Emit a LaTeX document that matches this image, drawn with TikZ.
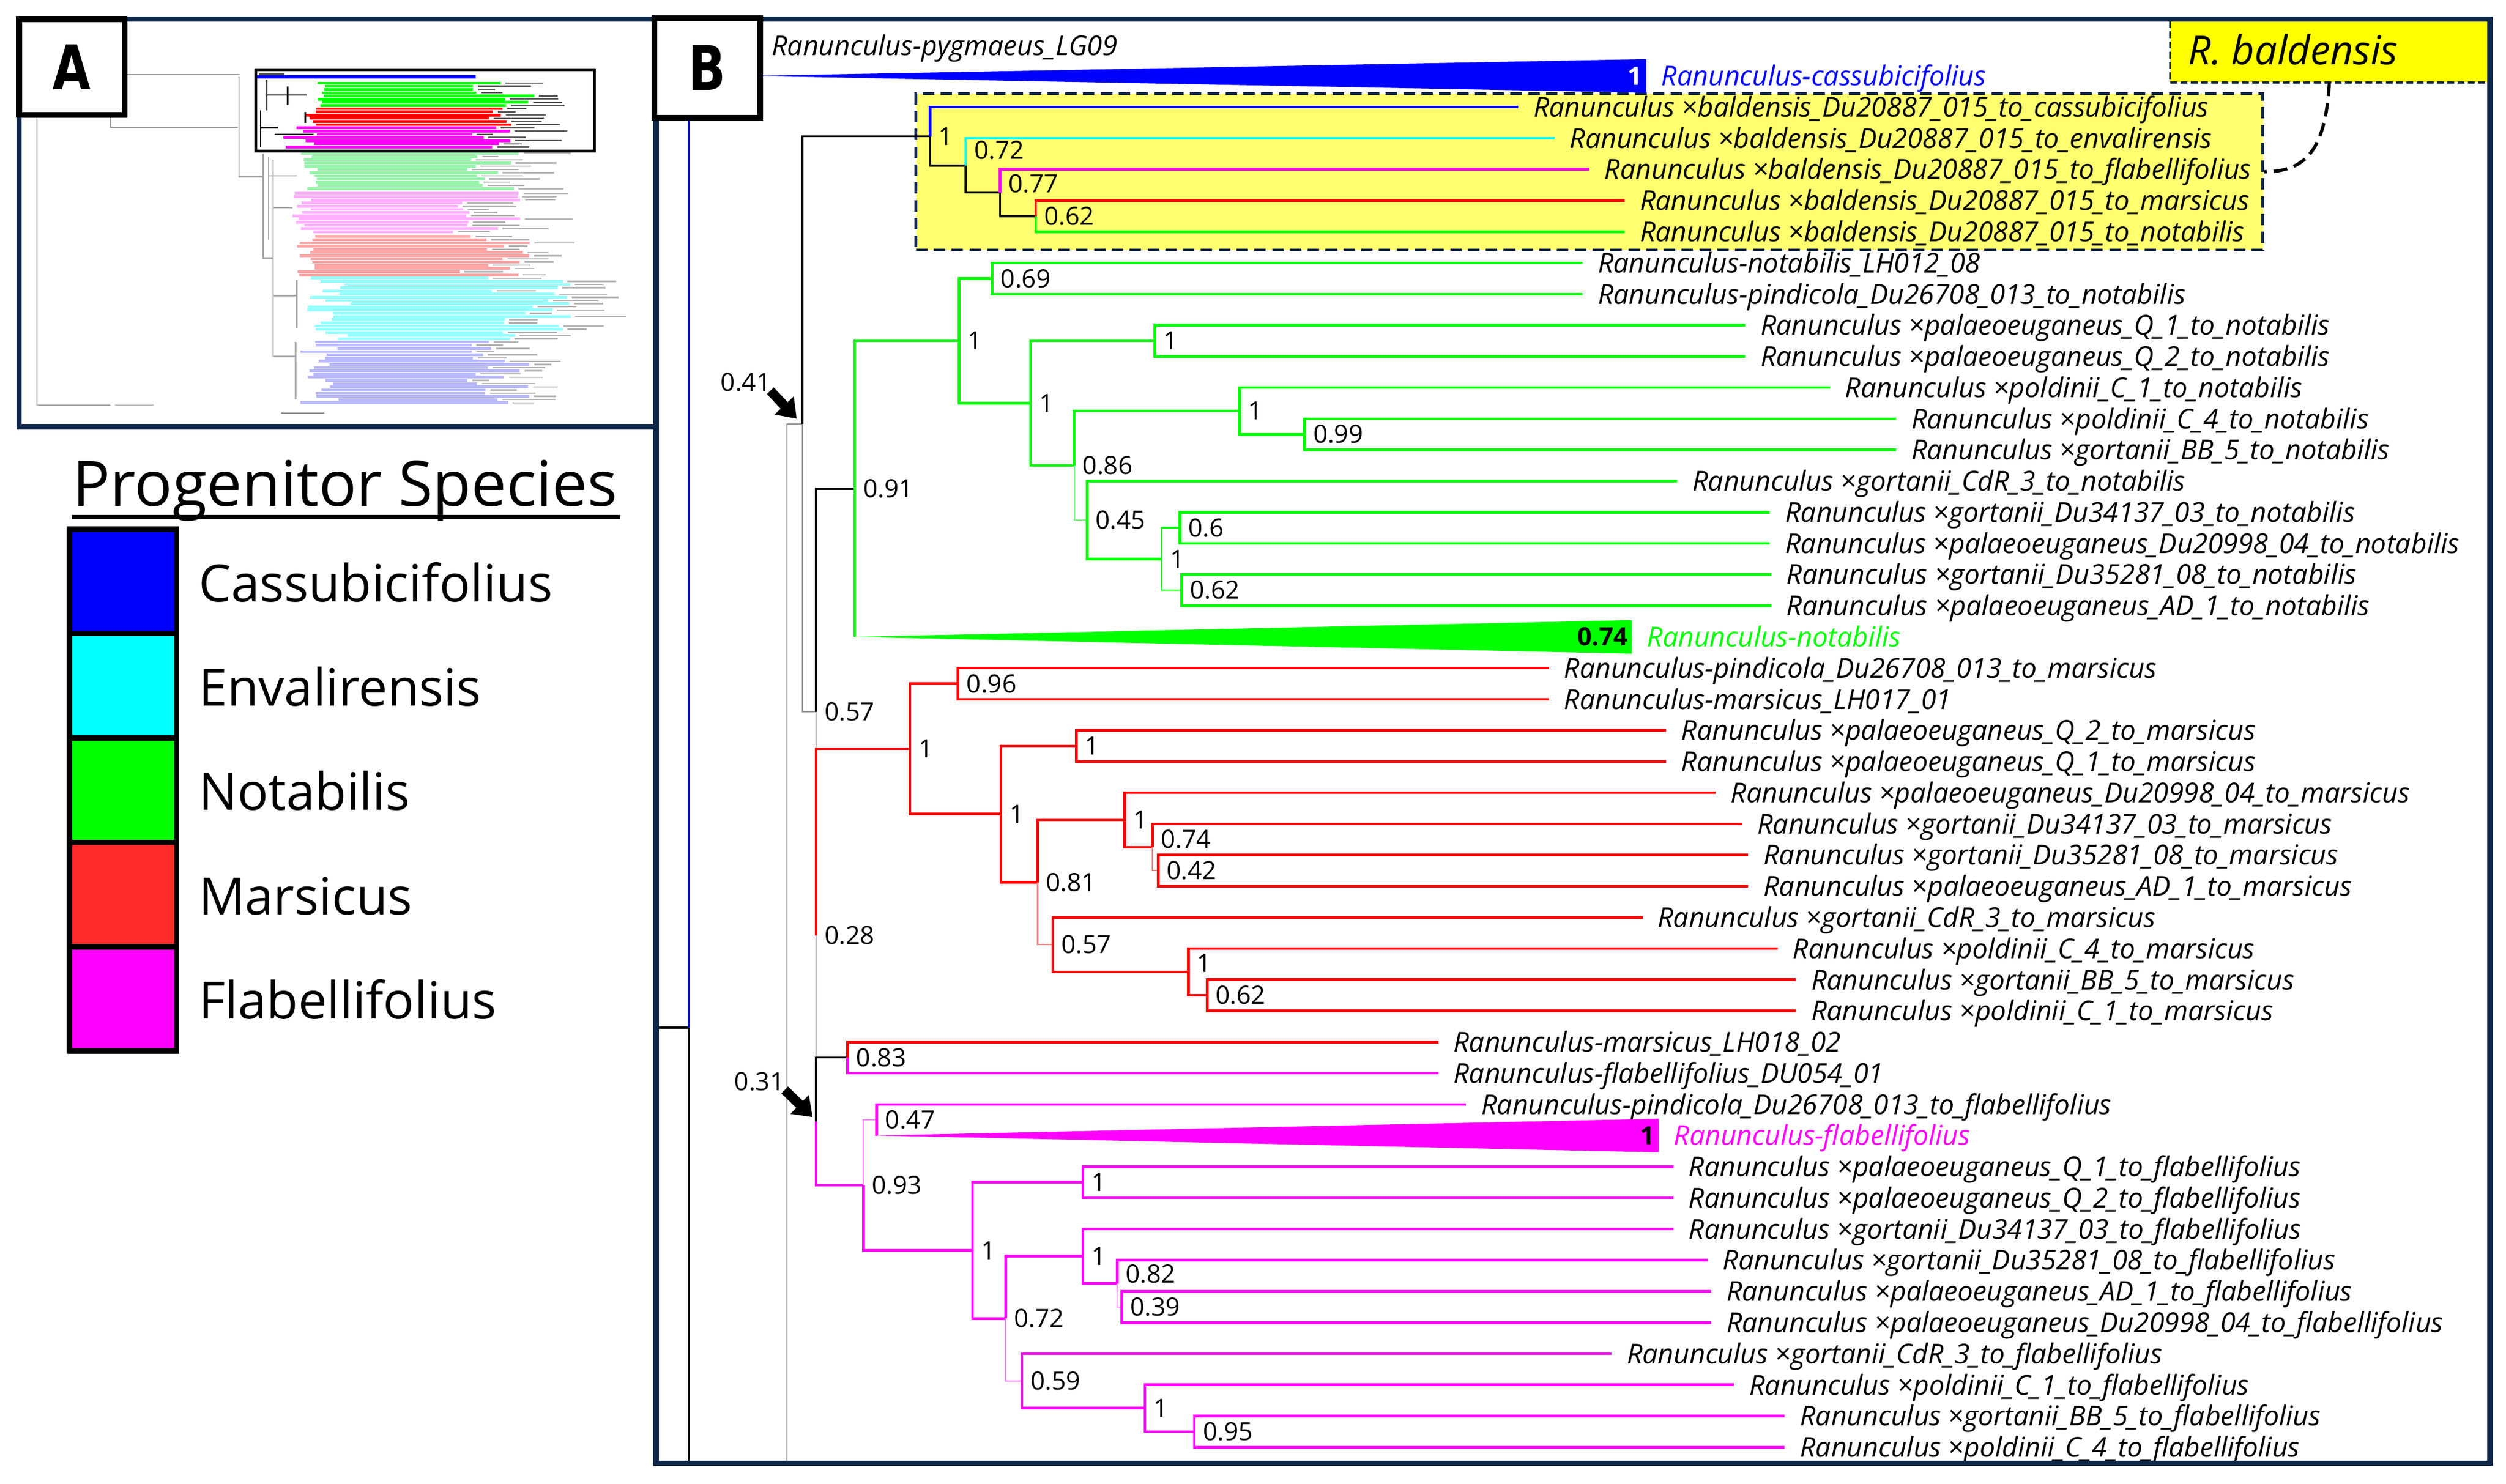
\documentclass[tikz,border=0pt]{standalone}
\usepackage{fontspec}
\setmainfont{Open Sans}
\newfontfamily\osans{Open Sans}
\newfontfamily\dvsans{DejaVu Sans}
\usetikzlibrary{arrows.meta}
\definecolor{navy}{RGB}{14,38,72}
\definecolor{cblue}{RGB}{0,0,255}
\definecolor{ccyan}{RGB}{0,255,255}
\definecolor{cgreen}{RGB}{0,255,0}
\definecolor{cred}{RGB}{255,0,0}
\definecolor{cmag}{RGB}{255,0,255}
\definecolor{lred}{RGB}{255,42,42}
\definecolor{ylw}{RGB}{255,255,112}
\definecolor{ylw2}{RGB}{255,255,0}
\definecolor{tgreen}{RGB}{150,245,170}
\definecolor{tpink}{RGB}{255,175,255}
\definecolor{tsalmon}{RGB}{255,165,165}
\definecolor{tcyan}{RGB}{150,255,255}
\definecolor{tlav}{RGB}{185,185,255}
\newcommand\myleaf{\osans\itshape\fontsize{12}{14}\selectfont}
\newcommand\mynum{\osans\fontsize{11}{13}\selectfont}
\newcommand\mynumb{\osans\bfseries\fontsize{11}{13}\selectfont}
\newcommand\mylegend{\osans\fontsize{22.5}{26}\selectfont}
\newcommand\mytitle{\osans\fontsize{27.5}{31}\selectfont}
\newcommand\mypanel{\dvsans\bfseries\fontsize{27}{30}\selectfont}
\newcommand\myrb{\osans\itshape\fontsize{17.5}{20}\selectfont}
\newcommand\Lf[6]{\coordinate (#1) at (#2,#3);\draw[#5] (#4) |- (#1);\node[leaf] (#1t) at (#1) {#6};}
\begin{document}
\begin{tikzpicture}[x=0.7pt,y=-0.7pt,
 br/.style={line width=1.15pt},
 thn/.style={line width=0.55pt},
 bk/.style={line width=0.85pt,black},
 gr/.style={line width=0.55pt,black!40},
 leaf/.style={anchor=base west,inner sep=0pt,xshift=6.5pt,yshift=-4.3pt,font=\myleaf},
 num/.style={anchor=base west,inner sep=0pt,xshift=3.6pt,yshift=-3.9pt,font=\mynum},
 numl/.style={anchor=base east,inner sep=0pt,yshift=-3.9pt,font=\mynum},
 wnum/.style={anchor=base east,inner sep=0pt,xshift=-1.5pt,yshift=-3.9pt,font=\mynumb},
 fat/.style={-{Triangle[length=8pt,width=11pt]},line width=4.2pt,black},
 lgbox/.style={draw=black,line width=2.4pt,minimum width=46.9pt,minimum height=45.7pt,inner sep=0pt},
 lgtxt/.style={anchor=base west,inner sep=0pt,font=\mylegend},
 panel/.style={draw=navy,line width=2.3pt},
 lbox/.style={draw=black,fill=white,line width=2.6pt,inner sep=0pt,font=\mypanel},
 tg/.style={line width=0.6pt,black!35}
]
\useasboundingbox (0,0) rectangle (1568,928.5);
\fill[white] (0,0) rectangle (1568,928.5);

% ================= PANEL A (thumbnail) =================
\pgfmathsetseed{12}
\foreach \ya/\yb/\col/\xa/\xr/\xb/\xbr/\gl in {
  52/66/cgreen/196/8/295/42/65,
  68/78/cred/191/8/300/22/65,
  80/92/cmag/176/24/295/25/65,
  96/119/tgreen/188/12/290/40/30,
  121/146/tpink/183/15/282/45/30,
  148/172/tsalmon/183/15/285/48/30,
  174/212/tcyan/190/30/300/58/30,
  214/252/tlav/187/25/290/42/30}{
  \pgfmathsetmacro\yn{\ya+2}
  \foreach \yy in {\ya,\yn,...,\yb}{
    \pgfmathsetmacro\xs{\xa+\xr*rnd}
    \pgfmathsetmacro\xe{\xb+\xbr*rnd}
    \pgfmathsetmacro\xt{\xe+12+25*rnd}
    \draw[line width=1.2pt,\col] (\xs,\yy) -- (\xe,\yy);
    \draw[line width=0.6pt,black!\gl] (\xe+3,\yy) -- (\xt,\yy);
  }
}
\draw[line width=1.4pt,cblue] (161,48) -- (297.5,48);
\draw[line width=0.6pt,black!70] (162,46.5) -- (178,46.5);
\draw[tg] (78,46.6) -- (150,46.6);
\draw[tg] (23.2,72) -- (23.2,253.4) -- (69,253.4);
\draw[line width=0.5pt,black!25] (72,253.4) -- (96,253.4);
\draw[tg] (69,72) -- (69,79.7) -- (148.8,79.7);
\draw[tg] (149.6,48) -- (149.6,110.5) -- (164.6,110.5);
\draw[tg] (164.6,96) -- (164.6,161.4) -- (171,161.4);
\draw[tg] (171,100) -- (171,223) -- (185,223);
\draw[tg] (171,130) -- (183,130) (171,185) -- (185.6,185);
\draw[tg] (185.6,175) -- (185.6,205) (185,214) -- (185,250);
\draw[tg] (168,98) -- (168,150) (168,110) -- (186,110);
\draw[black, line width=0.6pt] (167,50) -- (167,69) (163,69) -- (163,92) (167,59.5) -- (192,59.5)
  (163,80) -- (174,80) (172,84) -- (196,84) (180,54) -- (180,66) (191,70) -- (191,77);
\draw[line width=0.5pt,black!45] (176,258.5) -- (203,258.5);
\draw[black, line width=1.3pt] (160,43.5) rectangle (372,94.6);
\draw[panel] (12,12) rectangle (410.5,267);
\node[lbox,minimum width=46.2pt,minimum height=42pt] (Alab) at (45,42) {\scalebox{0.8}[1]{A}};

% ================= LEGEND =================
\node[anchor=base west,inner sep=0pt,font=\mytitle] (title) at (45,316.7) {Progenitor Species};
\draw[line width=1.75pt] (45,323.6) -- (388,323.6);
\node[lgbox,fill=cblue] (lg1) at (77,363.85) {};
\node[lgbox,fill=ccyan] (lg2) at (77,429.15) {};
\node[lgbox,fill=cgreen] (lg3) at (77,494.45) {};
\node[lgbox,fill=lred] (lg4) at (77,559.75) {};
\node[lgbox,fill=cmag] (lg5) at (77,625.05) {};
\node[lgtxt] (lt1) at (124,376.35) {Cassubicifolius};
\node[lgtxt] (lt2) at (124,441.65) {Envalirensis};
\node[lgtxt] (lt3) at (124,506.95) {Notabilis};
\node[lgtxt] (lt4) at (124,572.25) {Marsicus};
\node[lgtxt] (lt5) at (124,637.55) {Flabellifolius};

% ================= PANEL B =================
\node[fill=ylw,draw=navy,line width=1.1pt,dash pattern=on 5pt off 2.8pt,anchor=north west,
      minimum width=589.9pt,minimum height=68.4pt,inner sep=0pt] (ybox) at (572.3,57.8) {};
\node[fill=ylw2,anchor=north west,minimum width=139.1pt,minimum height=26.6pt,inner sep=0pt] (rbal) at (1357.8,13) {};
\draw[navy,line width=0.9pt,dash pattern=on 3pt off 1.5pt] (rbal.north west) -- (rbal.south west) -- (rbal.south east);
\node[anchor=base west,inner sep=0pt,font=\myrb,yshift=-6.2pt] (rbalt) at (1369,31.5) {R. baldensis};
\draw[black,line width=1.4pt,dash pattern=on 6pt off 3pt] (rbal.south) .. controls (1455,95) and (1442,107.4) .. (ybox.east);

% backbone coordinates
\coordinate (root) at (431,643);
\coordinate (rootin) at (412,643);
\coordinate (rootbot) at (431,915);
\coordinate (roottop) at (431,47.5);
\coordinate (nP) at (492.5,265.4);
\coordinate (nPbot) at (492.5,915);
\coordinate (n041) at (502,265.4);
\coordinate (n057) at (510.5,445.5);
\coordinate (n028) at (510.5,585.15);
\coordinate (n031) at (510.5,701.7);
% baldensis
\coordinate (b1) at (582,85.28);
\coordinate (b072) at (604.2,103.56);
\coordinate (b077) at (625.7,120.6);
\coordinate (b062) at (648,135.25);
% green
\coordinate (g091) at (534.7,305.9);
\coordinate (g1a) at (600.1,213.25);
\coordinate (g069) at (620.8,174.25);
\coordinate (g1b) at (644.8,252.25);
\coordinate (gq) at (722.6,213.25);
\coordinate (g086) at (672.1,291.25);
\coordinate (gpold) at (775.6,257.1);
\coordinate (g099) at (816.3,271.75);
\coordinate (g045) at (680.1,325.4);
\coordinate (g1c) at (726.6,349.75);
\coordinate (g06) at (738.2,330.25);
\coordinate (g062) at (739.3,369.25);
\coordinate (gtri) at (534.7,398.5);
\coordinate (gtE) at (1021,398.5);
% red
\coordinate (r1a) at (569.3,468.6);
\coordinate (r096) at (599.4,427.75);
\coordinate (r1b) at (626.3,509.4);
\coordinate (rq) at (673.5,466.75);
\coordinate (r081) at (649.2,552.05);
\coordinate (r1d) at (703.7,513.05);
\coordinate (r074) at (721.1,530.1);
\coordinate (r042) at (724.7,544.75);
\coordinate (r057) at (658.6,591.05);
\coordinate (r1p) at (743.6,608.1);
\coordinate (r062) at (755.3,622.75);
% magenta
\coordinate (m083) at (530.4,661.75);
\coordinate (m093) at (540.2,741.6);
\coordinate (m047) at (548.5,700.75);
\coordinate (m1b) at (608.5,782.4);
\coordinate (mq) at (677.5,739.75);
\coordinate (m072) at (629.2,825.05);
\coordinate (m1c) at (677.5,786.05);
\coordinate (m082) at (699,803.1);
\coordinate (m039) at (701.9,817.75);
\coordinate (m059) at (639.4,864.05);
\coordinate (m1p) at (716.4,881.1);
\coordinate (m095) at (747.3,895.75);
\coordinate (mtri) at (548.5,710.5);
\coordinate (mtE) at (1037.8,710.5);
% blue wedge
\coordinate (bwA) at (470,47.5);
\coordinate (bwE) at (1030,47.5);

% backbone
\draw[gr] (nPbot) -- (nP) -- (n041);
\draw[gr] (n041) |- (n057);
\draw[gr] (n057) |- (n028);
\draw[gr] (n028) |- (n031);
\draw[bk] (rootin) -- (root) -- (rootbot);
\draw[line width=0.85pt,cblue] (root) -- (roottop) -- (bwA);
\draw[bk] (n041) |- (b1);
\draw[bk] (n057) |- (g091);
\draw[bk] (n031) |- (m083);
\draw[br,cred] (n028) |- (r1a);
\draw[br,cmag] (n031) |- (m093);

% wedges
\fill[cblue] (bwA) -- (1030,37) -- (1030,58) -- cycle;
\node[wnum,text=white] (tbw) at (bwE) {1};
\node[leaf,text=cblue] (bwEt) at (bwE) {Ranunculus-cassubicifolius};
\node[leaf,xshift=-6.5pt] (pyg) at (482.6,28.5) {Ranunculus-pygmaeus\_LG09};

% baldensis clade
\draw[bk] (b1) |- (b072);
\draw[bk] (b072) |- (b077);
\draw[bk] (b077) |- (b062);
\Lf{bl0}{950}{67}{b1}{br,cblue}{Ranunculus ×baldensis\_Du20887\_015\_to\_cassubicifolius}
\Lf{bl1}{972.6}{86.5}{b072}{br,ccyan}{Ranunculus ×baldensis\_Du20887\_015\_to\_envalirensis}
\Lf{bl2}{994.4}{106}{b077}{br,cmag}{Ranunculus ×baldensis\_Du20887\_015\_to\_flabellifolius}
\Lf{bl3}{1016.6}{125.5}{b062}{br,cred}{Ranunculus ×baldensis\_Du20887\_015\_to\_marsicus}
\Lf{bl4}{1016.6}{145}{b062}{br,cgreen}{Ranunculus ×baldensis\_Du20887\_015\_to\_notabilis}
\node[num] (tb1) at (b1) {1};
\node[num,yshift=6.7pt] (tb072) at (b072) {0.72};
\node[num,yshift=3.9pt] (tb077) at (b077) {0.77};
\node[num] (tb062) at (b062) {0.62};

% green clade
\draw[br,cgreen] (g091) |- (g1a);
\draw[br,cgreen] (g091) |- (gtri);
\draw[br,cgreen] (g1a) |- (g069);
\draw[br,cgreen] (g1a) |- (g1b);
\draw[br,cgreen] (g1b) |- (gq);
\draw[br,cgreen] (g1b) |- (g086);
\draw[br,cgreen] (g086) |- (gpold);
\draw[br,cgreen] (gpold) |- (g099);
\draw[thn,cgreen!60] (g086) |- (g045);
\draw[br,cgreen] (g045) |- (g1c);
\draw[thn,cgreen] (g1c) |- (g06);
\draw[thn,cgreen] (g1c) |- (g062);
\Lf{gl5}{990.2}{164.5}{g069}{br,cgreen}{Ranunculus-notabilis\_LH012\_08}
\Lf{gl6}{990.2}{184}{g069}{br,cgreen}{Ranunculus-pindicola\_Du26708\_013\_to\_notabilis}
\Lf{gl7}{1092}{203.5}{gq}{br,cgreen}{Ranunculus ×palaeoeuganeus\_Q\_1\_to\_notabilis}
\Lf{gl8}{1092}{223}{gq}{br,cgreen}{Ranunculus ×palaeoeuganeus\_Q\_2\_to\_notabilis}
\Lf{gl9}{1145}{242.5}{gpold}{br,cgreen}{Ranunculus ×poldinii\_C\_1\_to\_notabilis}
\Lf{gl10}{1186.4}{262}{g099}{br,cgreen}{Ranunculus ×poldinii\_C\_4\_to\_notabilis}
\Lf{gl11}{1186.4}{281.5}{g099}{br,cgreen}{Ranunculus ×gortanii\_BB\_5\_to\_notabilis}
\Lf{gl12}{1049.4}{301}{g045}{br,cgreen}{Ranunculus ×gortanii\_CdR\_3\_to\_notabilis}
\Lf{gl13}{1107.4}{320.5}{g06}{br,cgreen}{Ranunculus ×gortanii\_Du34137\_03\_to\_notabilis}
\Lf{gl14}{1107.4}{340}{g06}{br,cgreen}{Ranunculus ×palaeoeuganeus\_Du20998\_04\_to\_notabilis}
\Lf{gl15}{1108.2}{359.5}{g062}{br,cgreen}{Ranunculus ×gortanii\_Du35281\_08\_to\_notabilis}
\Lf{gl16}{1108.2}{379}{g062}{br,cgreen}{Ranunculus ×palaeoeuganeus\_AD\_1\_to\_notabilis}
\fill[cgreen] (gtri) -- (1021,388) -- (1021,409) -- cycle;
\node[wnum] (tgt) at (gtE) {0.74};
\node[leaf,text=cgreen] (gtEt) at (gtE) {Ranunculus-notabilis};
\node[num] (tg091) at (g091) {0.91};
\node[num] (tg1a) at (g1a) {1};
\node[num] (tg069) at (g069) {0.69};
\node[num] (tg1b) at (g1b) {1};
\node[num] (tgq) at (gq) {1};
\node[num] (tg086) at (g086) {0.86};
\node[num] (tgpold) at (gpold) {1};
\node[num] (tg099) at (g099) {0.99};
\node[num] (tg045) at (g045) {0.45};
\node[num] (tg1c) at (g1c) {1};
\node[num] (tg06) at (g06) {0.6};
\node[num] (tg062) at (g062) {0.62};

% red clade
\draw[br,cred] (r1a) |- (r096);
\draw[br,cred] (r1a) |- (r1b);
\draw[br,cred] (r1b) |- (rq);
\draw[br,cred] (r1b) |- (r081);
\draw[br,cred] (r081) |- (r1d);
\draw[br,cred] (r1d) |- (r074);
\draw[thn,cred!50] (r074) |- (r042);
\draw[thn,cred!50] (r081) |- (r057);
\draw[br,cred] (r057) |- (r1p);
\draw[br,cred] (r1p) |- (r062);
\Lf{rl18}{969}{418}{r096}{br,cred}{Ranunculus-pindicola\_Du26708\_013\_to\_marsicus}
\Lf{rl19}{969}{437.5}{r096}{br,cred}{Ranunculus-marsicus\_LH017\_01}
\Lf{rl20}{1042.5}{457}{rq}{br,cred}{Ranunculus ×palaeoeuganeus\_Q\_2\_to\_marsicus}
\Lf{rl21}{1042.5}{476.5}{rq}{br,cred}{Ranunculus ×palaeoeuganeus\_Q\_1\_to\_marsicus}
\Lf{rl22}{1073.4}{496}{r1d}{br,cred}{Ranunculus ×palaeoeuganeus\_Du20998\_04\_to\_marsicus}
\Lf{rl23}{1090}{515.5}{r074}{br,cred}{Ranunculus ×gortanii\_Du34137\_03\_to\_marsicus}
\Lf{rl24}{1093.9}{535}{r042}{br,cred}{Ranunculus ×gortanii\_Du35281\_08\_to\_marsicus}
\Lf{rl25}{1093.9}{554.5}{r042}{br,cred}{Ranunculus ×palaeoeuganeus\_AD\_1\_to\_marsicus}
\Lf{rl26}{1027.7}{574}{r057}{br,cred}{Ranunculus ×gortanii\_CdR\_3\_to\_marsicus}
\Lf{rl27}{1112.1}{593.5}{r1p}{br,cred}{Ranunculus ×poldinii\_C\_4\_to\_marsicus}
\Lf{rl28}{1123.7}{613}{r062}{br,cred}{Ranunculus ×gortanii\_BB\_5\_to\_marsicus}
\Lf{rl29}{1123.7}{632.5}{r062}{br,cred}{Ranunculus ×poldinii\_C\_1\_to\_marsicus}
\node[num] (tr1a) at (r1a) {1};
\node[num] (tr096) at (r096) {0.96};
\node[num] (tr1b) at (r1b) {1};
\node[num] (trq) at (rq) {1};
\node[num] (tr081) at (r081) {0.81};
\node[num] (tr1d) at (r1d) {1};
\node[num,yshift=3.5pt] (tr074) at (r074) {0.74};
\node[num] (tr042) at (r042) {0.42};
\node[num] (tr057) at (r057) {0.57};
\node[num,yshift=3.8pt] (tr1p) at (r1p) {1};
\node[num] (tr062) at (r062) {0.62};

% magenta clade
\draw[thn,cmag!50] (m093) |- (m047);
\draw[br,cmag] (m047) |- (mtri);
\draw[br,cmag] (m093) |- (m1b);
\draw[br,cmag] (m1b) |- (mq);
\draw[br,cmag] (m1b) |- (m072);
\draw[br,cmag] (m072) |- (m1c);
\draw[br,cmag] (m1c) |- (m082);
\draw[thn,cmag!50] (m082) |- (m039);
\draw[thn,cmag!50] (m072) |- (m059);
\draw[br,cmag] (m059) |- (m1p);
\draw[br,cmag] (m1p) |- (m095);
\Lf{ml30}{899.9}{652}{m083}{br,cred}{Ranunculus-marsicus\_LH018\_02}
\Lf{ml31}{899.9}{671.5}{m083}{br,cmag}{Ranunculus-flabellifolius\_DU054\_01}
\Lf{ml32}{917.3}{691}{m047}{br,cmag}{Ranunculus-pindicola\_Du26708\_013\_to\_flabellifolius}
\Lf{ml34}{1047.1}{730}{mq}{br,cmag}{Ranunculus ×palaeoeuganeus\_Q\_1\_to\_flabellifolius}
\Lf{ml35}{1047.1}{749.5}{mq}{br,cmag}{Ranunculus ×palaeoeuganeus\_Q\_2\_to\_flabellifolius}
\Lf{ml36}{1047.1}{769}{m1c}{br,cmag}{Ranunculus ×gortanii\_Du34137\_03\_to\_flabellifolius}
\Lf{ml37}{1068.4}{788.5}{m082}{br,cmag}{Ranunculus ×gortanii\_Du35281\_08\_to\_flabellifolius}
\Lf{ml38}{1070.7}{808}{m039}{br,cmag}{Ranunculus ×palaeoeuganeus\_AD\_1\_to\_flabellifolius}
\Lf{ml39}{1070.7}{827.5}{m039}{br,cmag}{Ranunculus ×palaeoeuganeus\_Du20998\_04\_to\_flabellifolius}
\Lf{ml40}{1008.4}{847}{m059}{br,cmag}{Ranunculus ×gortanii\_CdR\_3\_to\_flabellifolius}
\Lf{ml41}{1085}{866.5}{m1p}{br,cmag}{Ranunculus ×poldinii\_C\_1\_to\_flabellifolius}
\Lf{ml42}{1116.7}{886}{m095}{br,cmag}{Ranunculus ×gortanii\_BB\_5\_to\_flabellifolius}
\Lf{ml43}{1116.7}{905.5}{m095}{br,cmag}{Ranunculus ×poldinii\_C\_4\_to\_flabellifolius}
\fill[cmag] (mtri) -- (1037.8,700) -- (1037.8,721) -- cycle;
\node[wnum] (tmt) at (mtE) {1};
\node[leaf,text=cmag] (mtEt) at (mtE) {Ranunculus-flabellifolius};
\node[num] (tm083) at (m083) {0.83};
\node[num] (tm047) at (m047) {0.47};
\node[num] (tm093) at (m093) {0.93};
\node[num] (tmq) at (mq) {1};
\node[num] (tm1b) at (m1b) {1};
\node[num] (tm1c) at (m1c) {1};
\node[num,yshift=4.2pt] (tm082) at (m082) {0.82};
\node[num] (tm039) at (m039) {0.39};
\node[num] (tm072) at (m072) {0.72};
\node[num] (tm059) at (m059) {0.59};
\node[num] (tm1p) at (m1p) {1};
\node[num] (tm095) at (m095) {0.95};

% backbone labels and arrows
\node[num] (tn057) at (n057) {0.57};
\node[num] (tn028) at (n028) {0.28};
\node[numl] (tn041) at (482.5,239.2) {0.41};
\node[numl] (tn031) at (491,676.6) {0.31};
\coordinate (a041s) at (482,244.5);
\coordinate (a041e) at (498.5,262);
\coordinate (a031s) at (491,682);
\coordinate (a031e) at (508.5,699);
\draw[fat] (a041s) -- (a041e);
\draw[fat] (a031s) -- (a031e);

% panel B frame and label
\draw[panel] (410.5,12) rectangle (1558,915.5);
\node[lbox,minimum width=46.3pt,minimum height=43.6pt] (Blab) at (442.5,42.5) {\scalebox{0.8}[1]{B}};
\end{tikzpicture}
\end{document}
